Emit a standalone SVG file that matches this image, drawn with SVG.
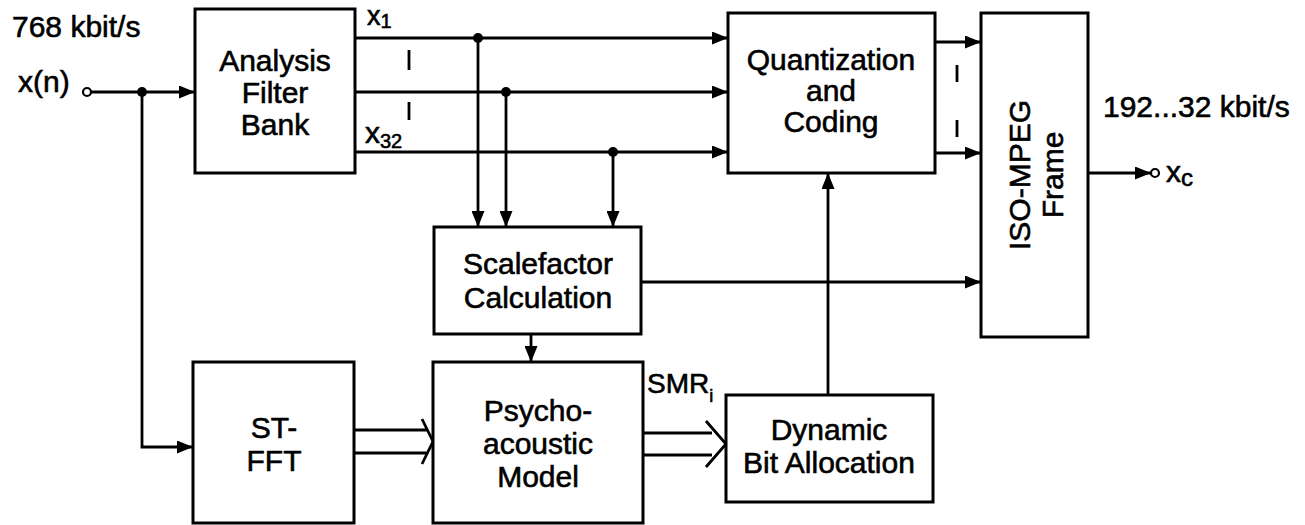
<svg xmlns="http://www.w3.org/2000/svg" width="1305" height="525" viewBox="0 0 1305 525">
<style>
text{font-family:"Liberation Sans",Arial,Helvetica,sans-serif;font-size:30px;fill:#000;stroke:#000;stroke-width:0.6}
.c{text-anchor:middle}
.box{fill:#fff;stroke:#000;stroke-width:3}
.ln{fill:none;stroke:#000;stroke-width:2.8}
.sub{font-size:20px}
</style>
<defs>
<marker id="ah" markerUnits="userSpaceOnUse" markerWidth="17" markerHeight="13" refX="16" refY="6.5" orient="auto">
<path d="M0,0 L16,6.5 L0,13 z" fill="#000"/>
</marker>
</defs>
<rect width="1305" height="525" fill="#fff"/>
<g id="connectors">
<circle cx="87" cy="92" r="4" fill="#fff" stroke="#000" stroke-width="2.2"/>
<path class="ln" d="M91,92 H195" marker-end="url(#ah)"/>
<circle cx="142" cy="92" r="5" fill="#000"/>
<path class="ln" d="M142,92 V447 H193" marker-end="url(#ah)"/>
<path class="ln" d="M355,38 H728" marker-end="url(#ah)"/>
<path class="ln" d="M355,92 H728" marker-end="url(#ah)"/>
<path class="ln" d="M355,152 H728" marker-end="url(#ah)"/>
<circle cx="478" cy="38" r="5" fill="#000"/>
<circle cx="506" cy="92" r="5" fill="#000"/>
<circle cx="613" cy="152" r="5" fill="#000"/>
<path class="ln" d="M478,38 V227" marker-end="url(#ah)"/>
<path class="ln" d="M506,92 V227" marker-end="url(#ah)"/>
<path class="ln" d="M613,152 V227" marker-end="url(#ah)"/>
<path class="ln" d="M409,50 V70 M409,102 V120" stroke-width="3"/>
<path class="ln" d="M531,334 V362" marker-end="url(#ah)"/>
<path class="ln" d="M642,282 H981" marker-end="url(#ah)"/>
<path class="ln" d="M828,395 V173" marker-end="url(#ah)"/>
<path class="ln" d="M935,42 H981" marker-end="url(#ah)"/>
<path class="ln" d="M935,153 H981" marker-end="url(#ah)"/>
<path class="ln" d="M957,65 V82 M957,120 V137" stroke-width="3"/>
<path class="ln" d="M1088,173 H1151" marker-end="url(#ah)"/>
<circle cx="1155" cy="173" r="4" fill="#fff" stroke="#000" stroke-width="2.2"/>
<path class="ln" d="M354,430 H427 M354,453 H427 M422,419 L433,441.5 L422,464"/>
<path class="ln" d="M643,433 H712 M643,455 H712 M706,421 L726,444 L706,467"/>
</g>
<g id="labels">
<text x="12" y="37">768 kbit/s</text>
<text x="18" y="92">x(n)</text>
<text x="367" y="25" style="font-size:27px">x<tspan class="sub" dy="3">1</tspan></text>
<text x="365" y="143">x<tspan class="sub" dy="5">32</tspan></text>
<text x="647" y="393" style="font-size:28px">SMR<tspan class="sub" dy="9" style="font-size:18px">i</tspan></text>
<text x="1103" y="117">192...32 kbit/s</text>
<text x="1166" y="182">x<tspan style="font-size:24px" dy="4">c</tspan></text>
</g>
<g id="analysis">
<rect class="box" x="195" y="9" width="160" height="164"/>
<text class="c" x="275" y="71">Analysis</text>
<text class="c" x="275" y="103">Filter</text>
<text class="c" x="275" y="135">Bank</text>
</g>
<g id="stfft">
<rect class="box" x="193" y="362" width="161" height="161"/>
<text class="c" x="274" y="438">ST-</text>
<text class="c" x="274" y="471">FFT</text>
</g>
<g id="scalefactor">
<rect class="box" x="434" y="227" width="207" height="107"/>
<text class="c" x="538" y="274">Scalefactor</text>
<text class="c" x="538" y="308">Calculation</text>
</g>
<g id="psycho">
<rect class="box" x="433" y="362" width="210" height="161"/>
<text class="c" x="538" y="421">Psycho-</text>
<text class="c" x="538" y="454">acoustic</text>
<text class="c" x="538" y="487">Model</text>
</g>
<g id="quant">
<rect class="box" x="728" y="13" width="207" height="160"/>
<text class="c" x="831" y="70">Quantization</text>
<text class="c" x="831" y="101">and</text>
<text class="c" x="831" y="132">Coding</text>
</g>
<g id="dynamic">
<rect class="box" x="726" y="395" width="207" height="107"/>
<text class="c" x="829" y="440">Dynamic</text>
<text class="c" x="829" y="473">Bit Allocation</text>
</g>
<g id="iso">
<rect class="box" x="981" y="13" width="107" height="324"/>
<text class="c" transform="translate(1030,175) rotate(-90)">ISO-MPEG</text>
<text class="c" transform="translate(1063,175) rotate(-90)">Frame</text>
</g>
</svg>
